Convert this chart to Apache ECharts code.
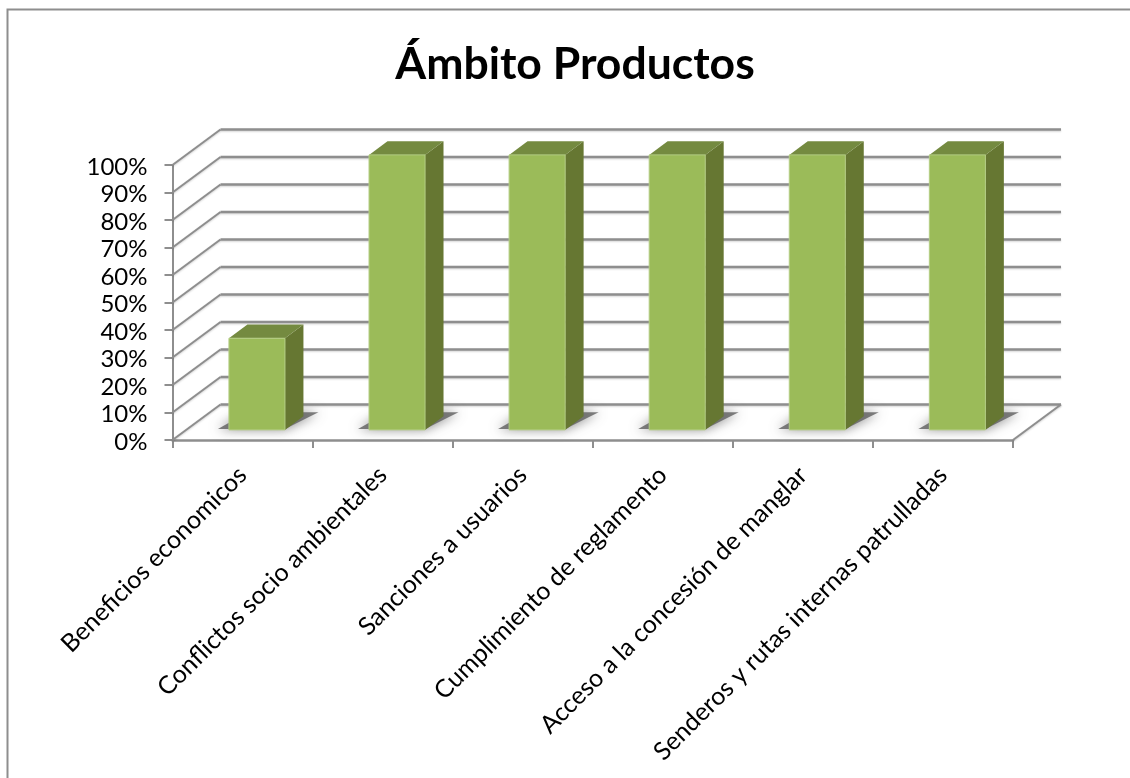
<!DOCTYPE html>
<html><head><meta charset="utf-8">
<style>html,body{margin:0;padding:0;background:#fff}#c{width:1130px;height:778px}</style>
<script src="https://cdn.jsdelivr.net/npm/echarts@6/dist/echarts.min.js"></script>
</head><body><div id="c"></div>
<script>
const titleText = 'Ámbito Productos';
const categories = ['Beneficios economicos','Conflictos socio ambientales','Sanciones a usuarios','Cumplimiento de reglamento','Acceso a la concesión de manglar','Senderos y rutas internas patrulladas'];
const values = [33.33,100,100,100,100,100];
const yTicks = [0,10,20,30,40,50,60,70,80,90,100];
const LINE = '#8e8e8e';
const FONT = 'Lato';
// oblique projection of the depth axis
const DX = 48, DY = -35.5;
const BAR_W = 0.4;      // share of the category band
const D0 = 0.285, D1 = 0.67; // bar depth span

const chart = echarts.init(document.getElementById('c'), null, {renderer:'canvas'});
const grid = {left:172.5, top:165, width:840.5, height:275, containLabel:false};

function poly(points, style){
  return {type:'polygon', shape:{points}, style, silent:true};
}
function seg(a,b,w){
  return {type:'line', shape:{x1:a[0],y1:a[1],x2:b[0],y2:b[1]},
    style:{stroke:LINE,lineWidth:w||2,shadowColor:'rgba(0,0,0,0.18)',shadowBlur:2,shadowOffsetY:1}, silent:true};
}

option = {
  animation:false,
  backgroundColor:'#fff',
  title:{text:titleText,left:570,top:37,textAlign:'center',
    textStyle:{fontFamily:FONT,fontWeight:'bold',fontSize:44.5,color:'#000'}},
  graphic:[{type:'polyline',silent:true,z:0,
    shape:{points:[[7.5,778],[7.5,9.5],[1130,9.5]]},style:{fill:null,stroke:LINE,lineWidth:2}}],
  grid,
  xAxis:{type:'category',data:categories,
    axisLine:{show:true,lineStyle:{color:LINE,width:2.5}},
    axisTick:{show:true,length:8,alignWithLabel:false,lineStyle:{color:LINE,width:2}},
    axisLabel:{interval:0,rotate:45,margin:31,fontFamily:FONT,fontSize:25,color:'#000'}},
  yAxis:{type:'value',min:0,max:100,interval:10,
    axisLine:{show:true,lineStyle:{color:LINE,width:2}},
    axisTick:{show:true,length:8,lineStyle:{color:LINE,width:2}},
    splitLine:{show:false},
    axisLabel:{formatter:'{value}%',margin:25,verticalAlign:'top',lineHeight:4,fontFamily:FONT,fontSize:24,color:'#000'}},
  series:[
    { // side wall and back wall gridlines, one per tick
      type:'custom',z:1,clip:false,silent:true,
      data:yTicks.map(v=>[v]),
      encode:{y:0},
      renderItem(params,api){
        const v=api.value(0);
        const a=api.coord([0,v]);
        const left=grid.left, right=grid.left+grid.width, y=a[1];
        const back=[left+DX,y+DY], backR=[right+DX,y+DY];
        const kids=[seg([left,y],back,2),seg(back,backR,2.5)];
        if(v===0) kids.push(seg([right,y],backR,2));
        return {type:'group',children:kids};
      }
    },
    { // bars
      type:'custom',z:2,clip:false,silent:true,
      data:values.map((v,i)=>[i,v]),
      encode:{x:0,y:1},
      renderItem(params,api){
        const i=api.value(0),v=api.value(1);
        const base=api.coord([i,0]), top=api.coord([i,v]);
        const band=api.size([1,0])[0], w=band*BAR_W;
        const x0=base[0]-w/2+DX*0.3, x1=x0+w;
        const yb=base[1]+DY*D0, yt=top[1]+DY*D0;
        const dx=DX*(D1-D0), dy=DY*(D1-D0);
        const shadow=poly([[x0-11,yb-1],[x1,yb-1],[x1+dx+15,yb+dy-4],[x0+dx,yb+dy-4]],
          {fill:'rgba(95,95,95,0.8)',shadowBlur:12,shadowColor:'rgba(95,95,95,1)'});
        return {type:'group',children:[
          shadow,
          poly([[x1,yb],[x1+dx,yb+dy],[x1+dx,yt+dy],[x1,yt]],{fill:'#667732'}),
          poly([[x0,yt],[x1,yt],[x1+dx,yt+dy],[x0+dx,yt+dy]],{fill:'#748a40'}),
          {type:'rect',shape:{x:x0,y:yt,width:w,height:yb-yt},silent:true,
           style:{fill:'#9bbb59',stroke:'#b4cd84',lineWidth:1}}
        ]};
      }
    }
  ]
};
chart.setOption(option);
</script></body></html>
